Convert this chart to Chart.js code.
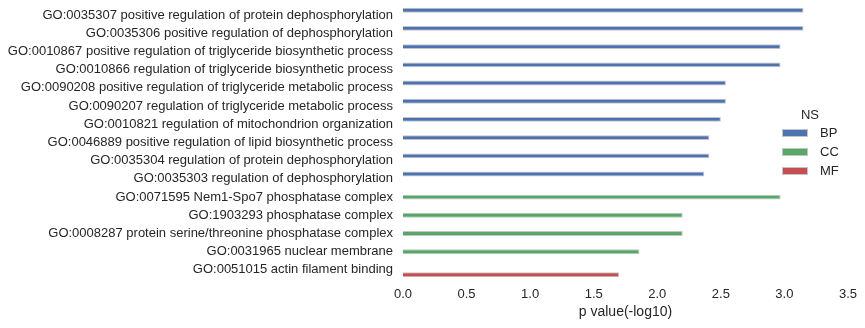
<!DOCTYPE html>
<html lang="en">
<head>
    <meta charset="UTF-8">
    <title>GO enrichment</title>
    <script src="https://cdn.jsdelivr.net/npm/chart.js"></script>
    <style>
        html, body { margin: 0; padding: 0; background: #fff; }
        .chart-container { width: 865px; height: 328px; }
    </style>
</head>
<body>
<div class="chart-container">
    <canvas id="goChart"></canvas>
</div>
<script>
    // GO terms, top to bottom
    var terms = [
        'GO:0035307 positive regulation of protein dephosphorylation',
        'GO:0035306 positive regulation of dephosphorylation',
        'GO:0010867 positive regulation of triglyceride biosynthetic process',
        'GO:0010866 regulation of triglyceride biosynthetic process',
        'GO:0090208 positive regulation of triglyceride metabolic process',
        'GO:0090207 regulation of triglyceride metabolic process',
        'GO:0010821 regulation of mitochondrion organization',
        'GO:0046889 positive regulation of lipid biosynthetic process',
        'GO:0035304 regulation of protein dephosphorylation',
        'GO:0035303 regulation of dephosphorylation',
        'GO:0071595 Nem1-Spo7 phosphatase complex',
        'GO:1903293 phosphatase complex',
        'GO:0008287 protein serine/threonine phosphatase complex',
        'GO:0031965 nuclear membrane',
        'GO:0051015 actin filament binding'
    ];
    // namespace of each term
    var namespaces = ['BP', 'BP', 'BP', 'BP', 'BP', 'BP', 'BP', 'BP', 'BP', 'BP',
                      'CC', 'CC', 'CC', 'CC', 'MF'];
    // p value (-log10)
    var pValues = [3.15, 3.15, 2.97, 2.97, 2.54, 2.54, 2.50, 2.41, 2.41, 2.37,
                   2.97, 2.20, 2.20, 1.86, 1.70];
    var nsNames = ['BP', 'CC', 'MF'];
    var nsColors = ['#4C72B0', '#55A868', '#C44E52'];
    var xTicks = [0, 0.5, 1.0, 1.5, 2.0, 2.5, 3.0, 3.5];

    var textColor = '#262626';
    var fontFamily = '"Liberation Sans", Arial, sans-serif';

    // one dataset per namespace, null where the term is in another one
    var datasets = nsNames.map(function (ns, i) {
        return {
            label: ns,
            data: pValues.map(function (v, j) { return namespaces[j] == ns ? v : null; }),
            backgroundColor: nsColors[i],
            borderColor: '#c4c4c4',
            borderWidth: 1,
            categoryPercentage: 0.8,
            barPercentage: 1.0
        };
    });

    // legend drawn by hand, placed over the right side of the plot
    var nsLegend = {
        id: 'nsLegend',
        afterDraw: function (chart) {
            var ctx = chart.ctx;
            ctx.save();
            ctx.fillStyle = textColor;
            ctx.font = '13px ' + fontFamily;
            ctx.textAlign = 'center';
            ctx.textBaseline = 'middle';
            ctx.fillText('NS', 810, 115);
            ctx.textAlign = 'left';
            chart.data.datasets.forEach(function (ds, i) {
                var y = 133 + i * 19;
                ctx.fillStyle = ds.backgroundColor;
                ctx.fillRect(782, y - 4, 26, 8);
                ctx.strokeStyle = '#c4c4c4';
                ctx.lineWidth = 1;
                ctx.strokeRect(782.5, y - 3.5, 25, 7);
                ctx.fillStyle = textColor;
                ctx.fillText(ds.label, 820, y);
            });
            ctx.restore();
        }
    };

    var ctx = document.getElementById('goChart').getContext('2d');
    new Chart(ctx, {
        type: 'bar',
        data: { labels: terms, datasets: datasets },
        options: {
            indexAxis: 'y',
            responsive: true,
            maintainAspectRatio: false,
            animation: false,
            layout: { padding: { top: 6, right: 16, left: 0, bottom: 0 } },
            plugins: {
                legend: { display: false },
                tooltip: { enabled: false }
            },
            scales: {
                x: {
                    min: 0,
                    max: 3.5,
                    afterBuildTicks: function (scale) {
                        scale.ticks = xTicks.map(function (v) { return { value: v }; });
                    },
                    afterFit: function (scale) { scale.height = 49; },
                    grid: { display: false, drawTicks: false },
                    border: { display: false },
                    ticks: {
                        color: textColor,
                        font: { family: fontFamily, size: 13 },
                        padding: 8,
                        maxRotation: 0,
                        callback: function (v) { return Number(v).toFixed(1); }
                    },
                    title: {
                        display: true,
                        text: 'p value(-log10)',
                        color: textColor,
                        font: { family: fontFamily, size: 14 },
                        padding: { top: 0, bottom: 7 }
                    }
                },
                y: {
                    afterFit: function (scale) {
                        scale.width = 403;
                        // no extra room above/below for the tick labels
                        scale.paddingTop = 0;
                        scale.paddingBottom = 0;
                    },
                    grid: { display: false, drawTicks: false },
                    border: { display: false },
                    ticks: {
                        color: textColor,
                        font: { family: fontFamily, size: 13 },
                        padding: 10,
                        autoSkip: false
                    }
                }
            }
        },
        plugins: [nsLegend]
    });
</script>
</body>
</html>
